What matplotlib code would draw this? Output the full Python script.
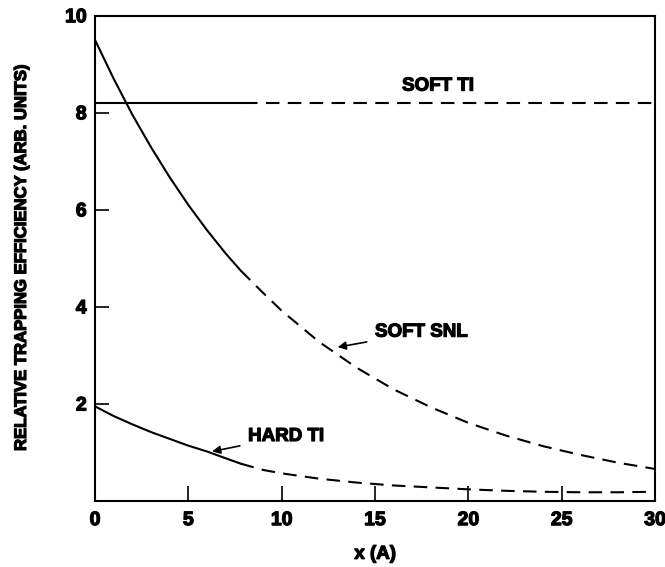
import matplotlib
matplotlib.use("Agg")
import matplotlib.pyplot as plt
import matplotlib.patheffects as pe

# ---- data ----
snl_x = [0, 1, 2, 3, 4, 5, 6, 7, 7.8, 9, 10, 12, 14, 16, 18, 20, 22, 24, 26, 28, 30]
snl_y = [9.5, 8.7, 7.96, 7.29, 6.67, 6.1, 5.58, 5.1, 4.75, 4.29, 3.92, 3.28, 2.75, 2.30,
         1.93, 1.61, 1.35, 1.13, 0.95, 0.79, 0.66]
hard_x = [0, 1, 2, 3, 4, 5, 6, 7, 7.8, 9, 10, 12, 14, 16, 18, 20, 22, 24, 26, 28, 30]
hard_y = [1.95, 1.75, 1.58, 1.42, 1.28, 1.14, 1.02, 0.88, 0.77, 0.64, 0.57, 0.46, 0.38,
          0.32, 0.28, 0.24, 0.21, 0.19, 0.18, 0.18, 0.19]
soft_ti_x = [0, 8.0, 30]
soft_ti_y = [8.2, 8.2, 8.2]
solid_end = 7.8   # solid part of the curves stops here, dashed beyond

xticks = [0, 5, 10, 15, 20, 25, 30]
yticks = [2, 4, 6, 8, 10]

plt.rcParams["font.family"] = ["Liberation Sans", "DejaVu Sans"]
plt.rcParams["font.weight"] = "bold"

fig = plt.figure(figsize=(6.65, 5.67), dpi=100)
ax = fig.add_axes([0.1429, 0.1164, 0.8421, 0.8559])

def split_plot(xs, ys, cut):
    solid = [(x, y) for x, y in zip(xs, ys) if x <= cut]
    dashed = [(x, y) for x, y in zip(xs, ys) if x >= cut]
    ax.plot(*zip(*solid), color="black", lw=1.5)
    ax.plot(*zip(*dashed), color="black", lw=1.5, dashes=(6.5, 4))

split_plot(snl_x, snl_y, solid_end)
split_plot(hard_x, hard_y, solid_end)
split_plot(soft_ti_x, soft_ti_y, 8.0)

ax.set_xlim(0, 30)
ax.set_ylim(0, 10)
ax.set_xticks(xticks)
ax.set_yticks(yticks)
ax.set_xticklabels([str(v) for v in xticks])
ax.set_yticklabels([str(v) for v in yticks])
ax.tick_params(axis="x", direction="in", length=11, width=1.2, labelsize=14, pad=8)
ax.tick_params(axis="y", direction="in", length=10, width=1.2, labelsize=14, pad=6)
for sp in ax.spines.values():
    sp.set_linewidth(1.5)

ax.set_xlabel("x (A)", fontsize=13.5, fontweight="bold", labelpad=12)
ax.set_ylabel("RELATIVE TRAPPING EFFICIENCY (ARB. UNITS)", fontsize=12,
              fontweight="bold", labelpad=26)

ax.text(16.45, 8.55, "SOFT TI", fontsize=13.5, fontweight="bold", va="center", ha="left")
ax.annotate("SOFT SNL", xy=(13.0, 3.17), xytext=(15.0, 3.48), fontsize=13.5,
            fontweight="bold", va="center", ha="left",
            arrowprops=dict(arrowstyle="-|>", color="black", lw=1.2,
                            mutation_scale=12, shrinkA=4, shrinkB=0))
ax.annotate("HARD TI", xy=(6.27, 1.02), xytext=(8.2, 1.33), fontsize=13.5,
            fontweight="bold", va="center", ha="left",
            arrowprops=dict(arrowstyle="-|>", color="black", lw=1.2,
                            mutation_scale=12, shrinkA=4, shrinkB=0))

# heavier, print-like lettering
thick = [pe.withStroke(linewidth=0.9, foreground="black")]
for t in ax.texts + ax.get_xticklabels() + ax.get_yticklabels() + [ax.xaxis.label, ax.yaxis.label]:
    t.set_path_effects(thick)

fig.savefig("out.png", dpi=100)
